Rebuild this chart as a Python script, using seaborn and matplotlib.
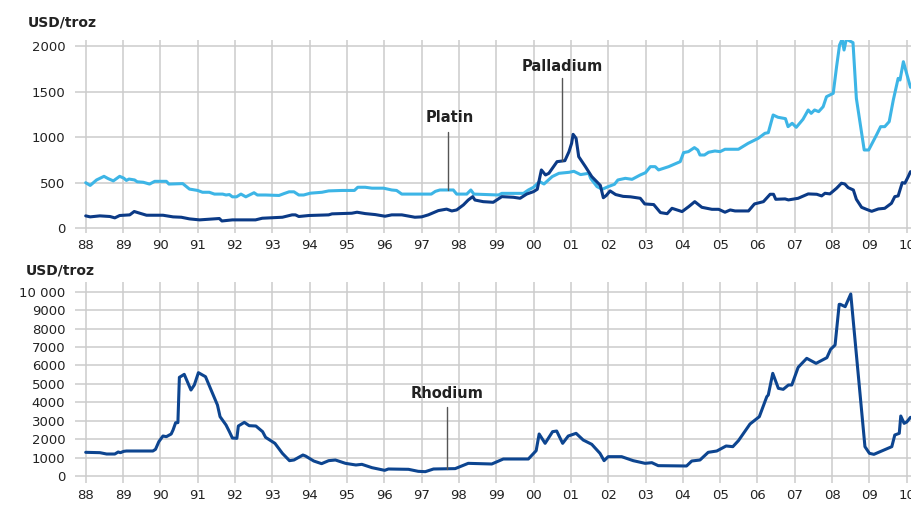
import seaborn as sns
import pandas as pd
import matplotlib.pyplot as plt

# platinum (light blue)
plat_year = [1988.00, 1988.12, 1988.29, 1988.49, 1988.60, 1988.74, 1988.91, 1989.02, 1989.09, 1989.16,
             1989.31, 1989.38, 1989.54, 1989.71, 1989.85, 1990.16, 1990.23, 1990.60, 1990.78, 1991.00,
             1991.13, 1991.31, 1991.45, 1991.67, 1991.76, 1991.85, 1991.93, 1992.04, 1992.16, 1992.29,
             1992.51, 1992.60, 1992.82, 1993.18, 1993.31, 1993.45, 1993.58, 1993.71, 1993.84, 1994.02,
             1994.33, 1994.51, 1994.87, 1995.20, 1995.29, 1995.49, 1995.67, 1995.98, 1996.20, 1996.33,
             1996.47, 1997.26, 1997.37, 1997.49, 1997.85, 1997.94, 1998.21, 1998.32, 1998.40, 1999.06,
             1999.15, 1999.73, 1999.86, 2000.00, 2000.16, 2000.28, 2000.50, 2000.68, 2000.95, 2001.08,
             2001.26, 2001.48, 2001.53, 2001.70, 2001.84, 2002.00, 2002.17, 2002.26, 2002.46, 2002.64,
             2002.86, 2003.00, 2003.13, 2003.26, 2003.35, 2003.62, 2003.93, 2004.02, 2004.15, 2004.31,
             2004.40, 2004.46, 2004.58, 2004.69, 2004.86, 2005.00, 2005.13, 2005.49, 2005.75, 2006.02,
             2006.20, 2006.29, 2006.42, 2006.55, 2006.75, 2006.82, 2006.93, 2007.04, 2007.22, 2007.36,
             2007.44, 2007.53, 2007.64, 2007.76, 2007.85, 2008.03, 2008.12, 2008.20, 2008.27, 2008.32,
             2008.38, 2008.56, 2008.65, 2008.86, 2008.98, 2009.19, 2009.30, 2009.41, 2009.53, 2009.64,
             2009.77, 2009.82, 2009.91, 2010.10]
plat_usd = [500, 470, 530, 570, 545, 520, 570, 550, 525, 540,
            530, 510, 505, 485, 515, 515, 485, 490, 430, 415,
            395, 395, 375, 375, 365, 370, 345, 345, 375, 345,
            390, 365, 365, 360, 380, 400, 400, 365, 365, 385,
            395, 410, 415, 415, 450, 450, 440, 440, 420, 415,
            375, 375, 405, 420, 420, 375, 375, 420, 375, 365,
            383, 383, 420, 450, 512, 486, 567, 603, 614, 625,
            589, 603, 548, 457, 428, 457, 483, 530, 548, 537,
            585, 610, 676, 676, 640, 676, 731, 830, 841, 885,
            859, 804, 804, 834, 848, 841, 867, 867, 932, 987,
            1042, 1049, 1243, 1218, 1203, 1115, 1152, 1108, 1196, 1298,
            1261, 1298, 1280, 1334, 1444, 1481, 1773, 2011, 2075, 1956,
            2075, 2037, 1426, 859, 859, 1024, 1115, 1115, 1170, 1408,
            1645, 1627, 1828, 1547]

# palladium (dark blue)
pall_year = [1988.00, 1988.12, 1988.38, 1988.65, 1988.78, 1988.91, 1989.18, 1989.30, 1989.45, 1989.63,
             1990.07, 1990.34, 1990.56, 1990.78, 1991.05, 1991.58, 1991.65, 1991.93, 1992.55, 1992.73,
             1993.27, 1993.53, 1993.62, 1993.71, 1993.98, 1994.51, 1994.60, 1995.13, 1995.27, 1995.49,
             1995.76, 1996.02, 1996.20, 1996.47, 1996.82, 1997.00, 1997.18, 1997.45, 1997.67, 1997.81,
             1997.94, 1998.12, 1998.25, 1998.37, 1998.43, 1998.65, 1998.92, 1999.15, 1999.46, 1999.64,
             1999.82, 2000.00, 2000.10, 2000.21, 2000.32, 2000.41, 2000.63, 2000.84, 2000.95, 2001.02,
             2001.06, 2001.14, 2001.21, 2001.39, 2001.56, 2001.79, 2001.87, 2001.95, 2002.05, 2002.20,
             2002.40, 2002.60, 2002.86, 2002.98, 2003.22, 2003.40, 2003.58, 2003.71, 2003.98, 2004.16,
             2004.32, 2004.51, 2004.78, 2004.96, 2005.13, 2005.27, 2005.40, 2005.76, 2005.92, 2006.16,
             2006.34, 2006.43, 2006.49, 2006.74, 2006.83, 2007.09, 2007.36, 2007.59, 2007.72, 2007.81,
             2007.94, 2008.12, 2008.25, 2008.34, 2008.43, 2008.57, 2008.65, 2008.79, 2008.92, 2009.06,
             2009.24, 2009.41, 2009.59, 2009.68, 2009.77, 2009.88, 2009.95, 2010.04, 2010.10]
pall_usd = [136, 125, 136, 129, 114, 140, 147, 184, 165, 143,
            143, 125, 121, 103, 92, 107, 80, 92, 92, 110,
            121, 147, 147, 129, 140, 147, 158, 165, 176, 161,
            150, 132, 147, 147, 121, 125, 147, 194, 210, 190,
            201, 256, 310, 347, 310, 292, 285, 347, 340, 329,
            376, 402, 428, 640, 585, 603, 731, 742, 841, 932,
            1031, 987, 786, 676, 567, 470, 335, 360, 410, 370,
            350, 345, 329, 267, 260, 172, 160, 219, 183, 238,
            292, 230, 208, 208, 176, 201, 190, 190, 267, 292,
            373, 373, 318, 322, 311, 329, 377, 373, 355, 384,
            377, 439, 494, 486, 446, 420, 318, 230, 208, 186,
            212, 219, 274, 347, 355, 501, 494, 567, 621]

# rhodium
rhod_year = [1988.00, 1988.38, 1988.56, 1988.78, 1988.87, 1988.93, 1989.02, 1989.09, 1989.80, 1989.87,
             1989.96, 1990.07, 1990.16, 1990.29, 1990.34, 1990.41, 1990.47, 1990.51, 1990.64, 1990.82,
             1990.91, 1991.02, 1991.13, 1991.21, 1991.36, 1991.53, 1991.60, 1991.76, 1991.85, 1991.93,
             1992.05, 1992.09, 1992.25, 1992.38, 1992.56, 1992.74, 1992.82, 1993.07, 1993.27, 1993.46,
             1993.58, 1993.82, 1993.89, 1994.11, 1994.32, 1994.51, 1994.69, 1994.96, 1995.24, 1995.40,
             1995.67, 1996.01, 1996.11, 1996.65, 1996.91, 1997.10, 1997.32, 1997.90, 1998.25, 1998.88,
             1999.19, 1999.86, 2000.07, 2000.15, 2000.31, 2000.51, 2000.62, 2000.78, 2000.93, 2001.14,
             2001.33, 2001.56, 2001.78, 2001.89, 2002.00, 2002.36, 2002.67, 2002.99, 2003.17, 2003.34,
             2004.10, 2004.24, 2004.46, 2004.68, 2004.91, 2005.16, 2005.34, 2005.49, 2005.80, 2006.05,
             2006.25, 2006.29, 2006.41, 2006.56, 2006.69, 2006.83, 2006.92, 2007.09, 2007.32, 2007.57,
             2007.86, 2007.96, 2008.08, 2008.19, 2008.22, 2008.35, 2008.50, 2008.88, 2009.00, 2009.12,
             2009.60, 2009.68, 2009.80, 2009.84, 2009.93, 2010.00, 2010.10]
rhod_usd = [1284, 1266, 1193, 1193, 1302, 1266, 1338, 1356, 1356, 1447,
            1863, 2170, 2134, 2278, 2495, 2893, 2893, 5353, 5515, 4665,
            4937, 5606, 5479, 5389, 4665, 3852, 3219, 2767, 2405, 2061,
            2043, 2712, 2911, 2730, 2712, 2405, 2098, 1772, 1230, 832,
            868, 1139, 1085, 814, 669, 832, 868, 687, 597, 633,
            452, 307, 380, 362, 253, 235, 380, 400, 687, 651,
            922, 922, 1374, 2279, 1772, 2405, 2440, 1772, 2170, 2315,
            1953, 1718, 1230, 832, 1049, 1049, 832, 687, 723, 561,
            543, 814, 868, 1284, 1356, 1628, 1592, 1917, 2821, 3219,
            4304, 4395, 5570, 4757, 4702, 4937, 4937, 5895, 6384, 6112,
            6420, 6872, 7108, 9315, 9315, 9187, 9875, 1592, 1230, 1175,
            1592, 2225, 2315, 3255, 2857, 2930, 3183]

year_ticks = list(range(1988, 2011))
year_labels = [f"{y % 100:02d}" for y in year_ticks]
top_ticks = [0, 500, 1000, 1500, 2000]
bot_ticks = list(range(0, 10001, 1000))
bot_labels = [str(v) if v < 10000 else "10 000" for v in bot_ticks]

LIGHT = "#3db5e6"
DARK = "#0b3a86"
GRID = "#cccccc"

sns.set_theme(style="white")
plt.rcParams["font.family"] = ["DejaVu Sans"]

top_df = pd.concat([
    pd.DataFrame({"year": plat_year, "usd": plat_usd, "metal": "Platin"}),
    pd.DataFrame({"year": pall_year, "usd": pall_usd, "metal": "Palladium"}),
])
bot_df = pd.DataFrame({"year": rhod_year, "usd": rhod_usd, "metal": "Rhodium"})

fig = plt.figure(figsize=(9.12, 5.09), dpi=100)
ax1 = fig.add_axes([75 / 912, 1 - 233 / 509, 837 / 912, 193 / 509])
ax2 = fig.add_axes([75 / 912, 1 - 483 / 509, 837 / 912, 200.7 / 509])

sns.lineplot(data=top_df, x="year", y="usd", hue="metal", sort=False, estimator=None,
             palette={"Platin": LIGHT, "Palladium": DARK}, linewidth=2.2, legend=False, ax=ax1)
sns.lineplot(data=bot_df, x="year", y="usd", hue="metal", sort=False, estimator=None,
             palette={"Rhodium": "#0d4590"}, linewidth=2.2, legend=False, ax=ax2)

for ax, ticks, labels, ylim in [(ax1, top_ticks, [str(t) for t in top_ticks], (-52, 2066)),
                                (ax2, bot_ticks, bot_labels, (-380, 10510))]:
    ax.set_xlim(1987.713, 2010.141)
    ax.set_ylim(*ylim)
    ax.set_xticks(year_ticks)
    ax.set_xticklabels(year_labels)
    ax.set_yticks(ticks)
    ax.set_yticklabels(labels)
    ax.grid(True, color=GRID, linewidth=1.1)
    ax.set_axisbelow(True)
    for s in ax.spines.values():
        s.set_visible(False)
    ax.tick_params(axis="both", length=0, labelsize=9.5, colors="#222222")
    ax.tick_params(axis="y", pad=7)
    ax.tick_params(axis="x", pad=4)
    ax.set_xlabel("")
    ax.set_ylabel("")

fig.text(28 / 912, 1 - 22 / 509, "USD/troz", fontsize=10, fontweight="bold", va="center", ha="left", color="#222222")
fig.text(26 / 912, 1 - 271 / 509, "USD/troz", fontsize=10, fontweight="bold", va="center", ha="left", color="#222222")

# callouts
ax1.plot([1997.70, 1997.70], [420, 1060], color="#555555", linewidth=1)
ax1.text(1997.76, 1215, "Platin", fontsize=10.5, fontweight="bold", ha="center", va="center", color="#222222")
ax1.plot([2000.77, 2000.77], [742, 1645], color="#555555", linewidth=1)
ax1.text(2000.77, 1770, "Palladium", fontsize=10.5, fontweight="bold", ha="center", va="center", color="#222222")
ax2.plot([1997.67, 1997.67], [396, 3760], color="#555555", linewidth=1)
ax2.text(1997.67, 4500, "Rhodium", fontsize=10.5, fontweight="bold", ha="center", va="center", color="#222222")

plt.savefig("out.png", dpi=100)
